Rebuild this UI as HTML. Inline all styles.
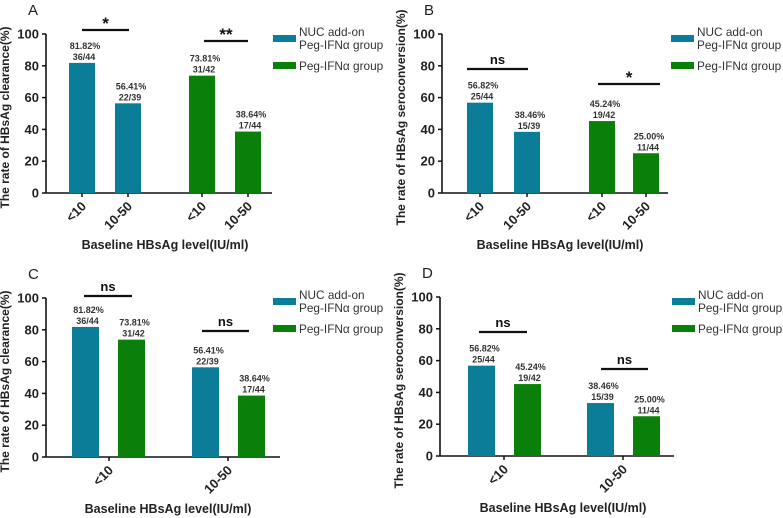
<!DOCTYPE html>
<html><head><meta charset="utf-8"><style>
html,body{margin:0;padding:0;background:#fff;}
svg{display:block;font-family:"Liberation Sans",Arial,sans-serif;}
</style></head><body>
<svg id="fig" width="783" height="518" viewBox="0 0 783 518" xmlns="http://www.w3.org/2000/svg"></svg>
<script>
// ---- data ----
const categories = ["<10","10-50"];
const groups = ["NUC add-on Peg-IFNα group","Peg-IFNα group"];
const clearanceNuc = [81.82, 56.41];
const clearancePeg = [73.81, 38.64];
const clearanceNucFrac = ["36/44","22/39"];
const clearancePegFrac = ["31/42","17/44"];
const seroNuc = [56.82, 38.46];
const seroPeg = [45.24, 25.00];
const seroNucDrawn = [56.82, 33.3];
const seroNucFrac = ["25/44","15/39"];
const seroPegFrac = ["19/42","11/44"];
const yTicks = [0,20,40,60,80,100];
const sigA = ["*","**"], sigB = ["ns","*"], sigC = ["ns","ns"], sigD = ["ns","ns"];

const TEAL="#0b7d98", GREEN="#0a7f0a";
const svg=document.getElementById('fig');
const NS="http://www.w3.org/2000/svg";
function mk(tag,attrs,parent,text){const e=document.createElementNS(NS,tag);for(const k in attrs)e.setAttribute(k,attrs[k]);if(text!==undefined)e.textContent=text;(parent||svg).appendChild(e);return e;}

function panel(o){
  const g=mk('g',{});
  
  
  const y=v=>o.y0-(v/100)*(o.y0-o.y100);
  const pl=mk('text',{x:o.ax-18,y:o.y100-19,'font-size':15,fill:'#222'},g,o.letter);
  
  
  const ya=mk('line',{x1:o.ax,y1:o.y100,x2:o.ax,y2:o.y0,stroke:'#111','stroke-width':1.6},g);
  
  
  const xa=mk('line',{x1:o.ax,y1:o.y0,x2:o.axEnd,y2:o.y0,stroke:'#111','stroke-width':1.6},g);
  
  
  yTicks.forEach(t=>{
    mk('line',{x1:o.ax-4,y1:y(t),x2:o.ax,y2:y(t),stroke:'#111','stroke-width':1.5},g);
    const tl=mk('text',{x:o.ax-7,y:y(t)+4.5,'font-size':13,'font-weight':'bold','text-anchor':'end',fill:'#222'},g,t);
    
    
  });
  const yt=mk('text',{transform:`translate(${o.ax-37},${(o.y0+o.y100)/2+4}) rotate(-90)`,'font-size':12,'font-weight':'bold','text-anchor':'middle',fill:'#222'},g,o.ytitle);
  
  
  const xt=mk('text',{x:o.xtitleX,y:o.y0+56,'font-size':12.5,'font-weight':'bold','text-anchor':'middle',fill:'#222'},g,'Baseline HBsAg level(IU/ml)');
  
  
  o.bars.forEach((b,i)=>{
    const r=mk('rect',{x:b.x,y:y(b.v),width:o.bw,height:o.y0-y(b.v),fill:b.c},g);
    
    
    const cx=b.x+o.bw/2+3;
    const p=mk('text',{x:cx,y:y(b.v)-14,'font-size':9,'font-weight':'bold','text-anchor':'middle',fill:'#333'},g,b.pct);
    
    
    const f=mk('text',{x:cx-1,y:y(b.v)-3,'font-size':9,'font-weight':'bold','text-anchor':'middle',fill:'#333'},g,b.frac);
    
    
  });
  o.ticks.forEach(t=>{
    mk('line',{x1:t.x,y1:o.y0,x2:t.x,y2:o.y0+4,stroke:'#111','stroke-width':1.5},g);
    const tl=mk('text',{transform:`translate(${t.x+5},${o.y0+14}) rotate(-45)`,'font-size':13,'font-weight':'bold','text-anchor':'end',fill:'#222'},g,t.l);
    
    
  });
  o.sig.forEach(s=>{
    const l=mk('line',{x1:s.x1,y1:s.y,x2:s.x2,y2:s.y,stroke:'#111','stroke-width':2.2},g);
    
    
    const st=s.t.indexOf('*')>=0;
    const tx=mk('text',{x:(s.x1+s.x2)/2,y:st?s.y-1:s.y-5,'font-size':st?17:13,'font-weight':'bold','text-anchor':'middle',fill:'#111'},g,s.t);
    
    
  });
  const lg=mk('g',{},g);
  
  
  const s1=mk('rect',{x:o.lx,y:o.ly,width:23,height:7,fill:TEAL},lg);
  
  
  const t1=mk('text',{x:o.lx+26,y:o.ly+1,'font-size':11.8,fill:'#333'},lg,'NUC add-on');
  
  
  mk('text',{x:o.lx+26,y:o.ly+14,'font-size':11.8,fill:'#333'},lg,'Peg-IFNα group');
  const s2=mk('rect',{x:o.lx,y:o.ly+27,width:23,height:7,fill:GREEN},lg);
  
  
  const t2=mk('text',{x:o.lx+26,y:o.ly+35,'font-size':11.8,fill:'#333'},lg,'Peg-IFNα group');
  
  
}
const pctf=v=>v.toFixed(2)+'%';
panel({letter:'A',ax:46,axEnd:272,y100:34,y0:193,bw:26,xtitleX:165,lx:273,ly:35,
  ytitle:'The rate of HBsAg clearance(%)',
  bars:[{x:69,v:clearanceNuc[0],c:TEAL,pct:pctf(clearanceNuc[0]),frac:clearanceNucFrac[0]},
        {x:115,v:clearanceNuc[1],c:TEAL,pct:pctf(clearanceNuc[1]),frac:clearanceNucFrac[1]},
        {x:189,v:clearancePeg[0],c:GREEN,pct:pctf(clearancePeg[0]),frac:clearancePegFrac[0]},
        {x:235,v:clearancePeg[1],c:GREEN,pct:pctf(clearancePeg[1]),frac:clearancePegFrac[1]}],
  ticks:[{x:82,l:categories[0]},{x:128,l:categories[1]},{x:202,l:categories[0]},{x:248,l:categories[1]}],
  sig:[{x1:82,x2:129,y:30,t:sigA[0]},{x1:204,x2:248,y:41,t:sigA[1]}]});
panel({letter:'B',ax:442,axEnd:668,y100:34,y0:193,bw:26,xtitleX:560,lx:671,ly:35,
  ytitle:'The rate of HBsAg seroconversion(%)',
  bars:[{x:467,v:seroNuc[0],c:TEAL,pct:pctf(seroNuc[0]),frac:seroNucFrac[0]},
        {x:514,v:seroNuc[1],c:TEAL,pct:pctf(seroNuc[1]),frac:seroNucFrac[1]},
        {x:589,v:seroPeg[0],c:GREEN,pct:pctf(seroPeg[0]),frac:seroPegFrac[0]},
        {x:633,v:seroPeg[1],c:GREEN,pct:pctf(seroPeg[1]),frac:seroPegFrac[1]}],
  ticks:[{x:480,l:categories[0]},{x:527,l:categories[1]},{x:602,l:categories[0]},{x:646,l:categories[1]}],
  sig:[{x1:467,x2:528,y:69,t:sigB[0]},{x1:598,x2:660,y:84,t:sigB[1]}]});
panel({letter:'C',ax:46,axEnd:280,y100:298,y0:457,bw:27,xtitleX:168,lx:273,ly:298,
  ytitle:'The rate of HBsAg clearance(%)',
  bars:[{x:72,v:clearanceNuc[0],c:TEAL,pct:pctf(clearanceNuc[0]),frac:clearanceNucFrac[0]},
        {x:118,v:clearancePeg[0],c:GREEN,pct:pctf(clearancePeg[0]),frac:clearancePegFrac[0]},
        {x:192,v:clearanceNuc[1],c:TEAL,pct:pctf(clearanceNuc[1]),frac:clearanceNucFrac[1]},
        {x:238,v:clearancePeg[1],c:GREEN,pct:pctf(clearancePeg[1]),frac:clearancePegFrac[1]}],
  ticks:[{x:109,l:categories[0]},{x:228,l:categories[1]}],
  sig:[{x1:84,x2:132,y:296,t:sigC[0]},{x1:202,x2:249,y:331,t:sigC[1]}]});
panel({letter:'D',ax:440,axEnd:674,y100:297,y0:456,bw:27,xtitleX:563,lx:672,ly:298,
  ytitle:'The rate of HBsAg seroconversion(%)',
  bars:[{x:468,v:seroNucDrawn[0],c:TEAL,pct:pctf(seroNuc[0]),frac:seroNucFrac[0]},
        {x:514,v:seroPeg[0],c:GREEN,pct:pctf(seroPeg[0]),frac:seroPegFrac[0]},
        {x:587,v:seroNucDrawn[1],c:TEAL,pct:pctf(seroNuc[1]),frac:seroNucFrac[1]},
        {x:633,v:seroPeg[1],c:GREEN,pct:pctf(seroPeg[1]),frac:seroPegFrac[1]}],
  ticks:[{x:504,l:categories[0]},{x:623,l:categories[1]}],
  sig:[{x1:479,x2:527,y:332,t:sigD[0]},{x1:601,x2:648,y:369,t:sigD[1]}]});
</script>
</body></html>
